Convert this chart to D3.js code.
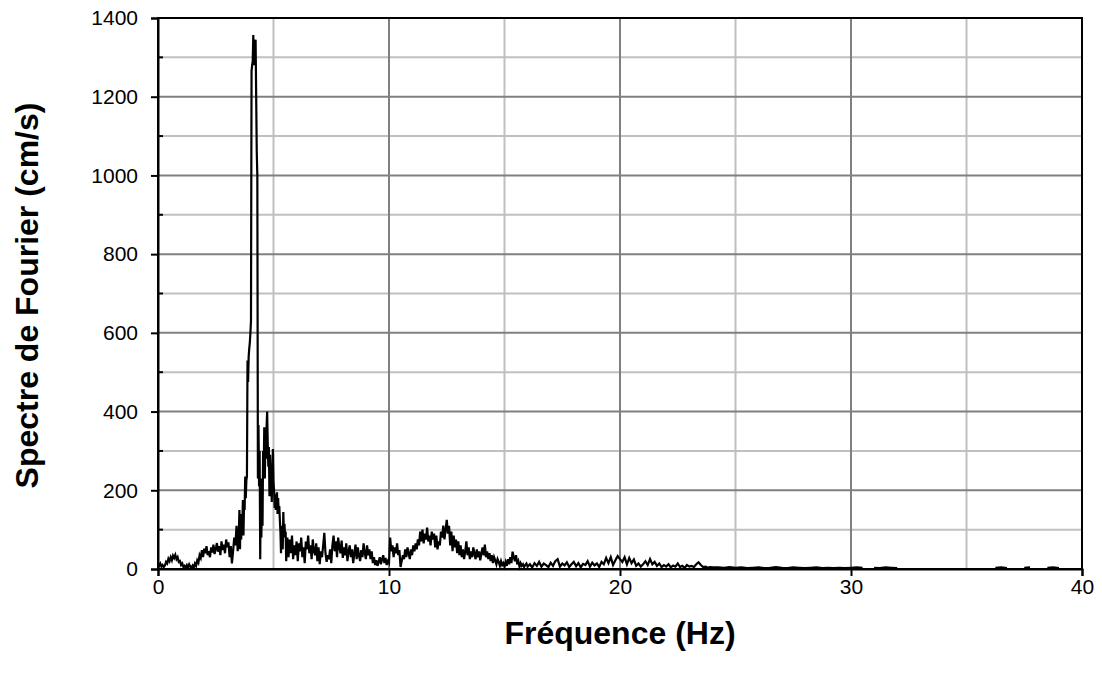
<!DOCTYPE html>
<html>
<head>
<meta charset="utf-8">
<script src="https://cdn.jsdelivr.net/npm/d3@7"></script>
<style>
  html, body { margin: 0; padding: 0; background: #fff; }
  svg { display: block; font-family: "Liberation Sans", Arial, sans-serif; }
</style>
</head>
<body>
<svg id="chart" width="1102" height="684"></svg>
<script>
// Fourier amplitude spectrum, sampled in segments (start frequency, step, amplitudes in cm/s)
const segA = { start: 0.00, step: 0.05, amp: [
  12, 8, 14, 6, 10, 5, 9, 18, 14, 26, 20, 30, 22, 34, 28, 36, 25, 30, 18, 20,
  10, 14, 5, 8, 3, 10, 4, 12, 6, 3, 9, 4, 14, 8, 22, 16, 35, 28, 48, 30,
  52, 40, 58, 35, 45, 30, 55, 42, 62, 38, 50, 66, 44, 58, 35, 70, 48, 62, 40, 75,
  55, 68, 30, 58, 14, 45, 80, 60, 110, 45, 95
]};
const segB = { start: 3.525, step: 0.025, amp: [
  150, 50, 140, 75, 120, 110, 175, 85, 170, 150, 235, 180, 225, 235, 530, 475, 540, 560, 575, 600,
  630, 1265, 1280, 1290, 1357, 1280, 1340, 1330, 1345, 1200, 1060, 1000, 230, 366, 210, 300, 25, 230, 80, 200,
  110, 300, 240, 360, 230, 330, 280, 360, 400, 320, 260, 310, 185, 290, 200, 230, 170, 260, 305, 220,
  200, 155, 190, 150, 175, 195, 140, 180, 145, 160, 125, 95, 40, 110, 60, 50, 145, 90, 115, 80,
  95, 20, 55, 80
]};
const segC = { start: 5.65, step: 0.05, amp: [
  30, 75, 40, 85, 25, 60, 35, 70,
  20, 65, 45, 80, 30, 55, 15, 70, 50, 85, 40, 60, 25, 75, 45, 35, 65, 20, 55, 12,
  45, 30, 60, 92, 40, 18, 35, 25, 50, 15, 60, 85, 45, 70, 30, 80, 55, 40, 72, 28,
  55, 35, 65, 20, 45, 60, 30, 50, 15, 40, 62, 25, 55, 35, 20, 48, 30, 65, 40, 25,
  60, 35, 50, 25, 45, 15, 30, 10, 22, 8, 18, 30, 12, 25, 35, 15, 28, 10, 20, 15,
  80, 45, 60, 30, 55, 40, 65, 35, 48, 5, 20, 35, 25, 50, 30, 55, 40, 25, 50, 35,
  60, 45, 65, 50, 75, 60, 95, 70, 100, 65, 90, 75, 105, 70, 85, 60, 95, 75, 90, 55,
  85, 50, 70, 60, 95, 80, 110, 75, 100, 125, 90, 110, 60, 95, 45, 85, 55, 75, 40, 70,
  35, 60, 30, 50, 25, 45, 70, 35, 55, 25, 45, 30, 55, 38, 25, 50, 30, 45, 22, 40,
  55, 35, 62, 30, 45, 25, 40, 20, 35, 15, 30, 22, 12, 25, 18, 8, 20, 10, 15, 6,
  18, 8, 25, 12, 30, 15, 44, 30, 20, 35, 12, 20, 6, 15, 8, 12, 5, 10, 14, 6
]};
const segD = { start: 16.1, step: 0.1, amp: [
  12, 4, 15, 8, 18, 6, 14, 10, 5, 16,
  8, 20, 25, 6, 14, 9, 17, 5, 12, 18,
  7, 15, 4, 13, 10, 20, 6, 16, 9, 14,
  5, 18, 12, 28, 15, 30, 10, 22, 33, 25,
  18, 30, 12, 28, 15, 24, 8, 14, 6, 12,
  20, 10, 25, 12, 18, 8, 14, 5, 10, 6,
  12, 4, 9, 6, 14, 5, 8, 3, 10, 6,
  8, 5, 12, 17, 10, 5, 6, 3, 5, 4
]};
// null = no value plotted (gaps in the tail of the spectrum)
const segE = { start: 24.25, step: 0.25, amp: [
  4, 3, 5, 3, 4, 2, 3, 4, 2, 3, 5, 3, 2, 4, 3, 2, 3, 4, 2, 3, 2, 3, 2, 3,
  4, 3, null, 3, 2, 4, 3, 2,
  null, null, null, null, null, null, null, null, null, null, null, null, null, null, null, null,
  3, 4, 2, null, null, 3, 4, null, null, 3, 4, 2,
  null, null, null, null
]};

const xTicks = [0, 10, 20, 30, 40];
const xMinorGrid = [5, 15, 25, 35];
const yTicks = [0, 200, 400, 600, 800, 1000, 1200, 1400];
const yMinorGrid = [100, 300, 500, 700, 900, 1100, 1300];

const xTitle = "Fréquence (Hz)";
const yTitle = "Spectre de Fourier (cm/s)";

// Flatten segments into (frequency, amplitude) points
const points = [];
[segA, segB, segC, segD, segE].forEach(s => {
  s.amp.forEach((a, i) => {
    points.push({ f: +(s.start + i * s.step).toFixed(3), a: a });
  });
});

const svg = d3.select("#chart");
const margin = { left: 158, top: 18, right: 1102 - 1082, bottom: 684 - 569 };
const W = 1102 - margin.left - margin.right;
const H = 684 - margin.top - margin.bottom;

const x = d3.scaleLinear().domain([0, 40]).range([0, W]);
const y = d3.scaleLinear().domain([0, 1400]).range([H, 0]);

const g = svg.append("g").attr("transform", `translate(${margin.left},${margin.top})`);

// Gridlines: minor (light) then major (darker)
g.append("g").selectAll("line.vminor").data(xMinorGrid).join("line")
  .attr("x1", d => x(d)).attr("x2", d => x(d)).attr("y1", 0).attr("y2", H)
  .attr("stroke", "#c0c0c0").attr("stroke-width", 2);
g.append("g").selectAll("line.hminor").data(yMinorGrid).join("line")
  .attr("x1", 0).attr("x2", W).attr("y1", d => y(d)).attr("y2", d => y(d))
  .attr("stroke", "#c0c0c0").attr("stroke-width", 2);
g.append("g").selectAll("line.vmajor").data(xTicks.slice(1, -1)).join("line")
  .attr("x1", d => x(d)).attr("x2", d => x(d)).attr("y1", 0).attr("y2", H)
  .attr("stroke", "#808080").attr("stroke-width", 2);
g.append("g").selectAll("line.hmajor").data(yTicks.slice(1, -1)).join("line")
  .attr("x1", 0).attr("x2", W).attr("y1", d => y(d)).attr("y2", d => y(d))
  .attr("stroke", "#808080").attr("stroke-width", 2);

// Spectrum line
const line = d3.line()
  .defined(d => d.a !== null)
  .x(d => x(d.f))
  .y(d => y(d.a));
g.append("path")
  .datum(points)
  .attr("fill", "none")
  .attr("stroke", "#000")
  .attr("stroke-width", 2.2)
  .attr("stroke-linejoin", "miter")
  .attr("d", line);

// Plot frame
g.append("rect").attr("x", 0).attr("y", 0).attr("width", W).attr("height", H)
  .attr("fill", "none").attr("stroke", "#000").attr("stroke-width", 2);

// Axes
const xAxis = d3.axisBottom(x).tickValues(xTicks).tickSize(7).tickPadding(3).tickFormat(d3.format("d"));
const yAxis = d3.axisLeft(y).tickValues(yTicks).tickSize(7).tickPadding(13).tickFormat(d3.format("d"));

const gx = g.append("g").attr("transform", `translate(0,${H})`).call(xAxis);
const gy = g.append("g").call(yAxis);
// Minor inner ticks on the value axis
g.append("g").selectAll("line.yminor").data(yMinorGrid).join("line")
  .attr("x1", 0).attr("x2", 5).attr("y1", d => y(d)).attr("y2", d => y(d))
  .attr("stroke", "#000").attr("stroke-width", 2);

[gx, gy].forEach(a => {
  a.select(".domain").attr("stroke", "#000").attr("stroke-width", 2);
  a.selectAll(".tick line").attr("stroke", "#000").attr("stroke-width", 2);
  a.selectAll(".tick text").attr("fill", "#000").style("font-size", "21px")
    .style("font-family", '"Liberation Sans", Arial, sans-serif');
});

// Axis titles
svg.append("text")
  .attr("x", margin.left + W / 2).attr("y", 644)
  .attr("text-anchor", "middle")
  .style("font-size", "32px").style("font-weight", "bold")
  .text(xTitle);
svg.append("text")
  .attr("transform", `translate(38,${margin.top + H / 2 + 2}) rotate(-90)`)
  .attr("text-anchor", "middle")
  .style("font-size", "32px").style("font-weight", "bold")
  .text(yTitle);
</script>
</body>
</html>
